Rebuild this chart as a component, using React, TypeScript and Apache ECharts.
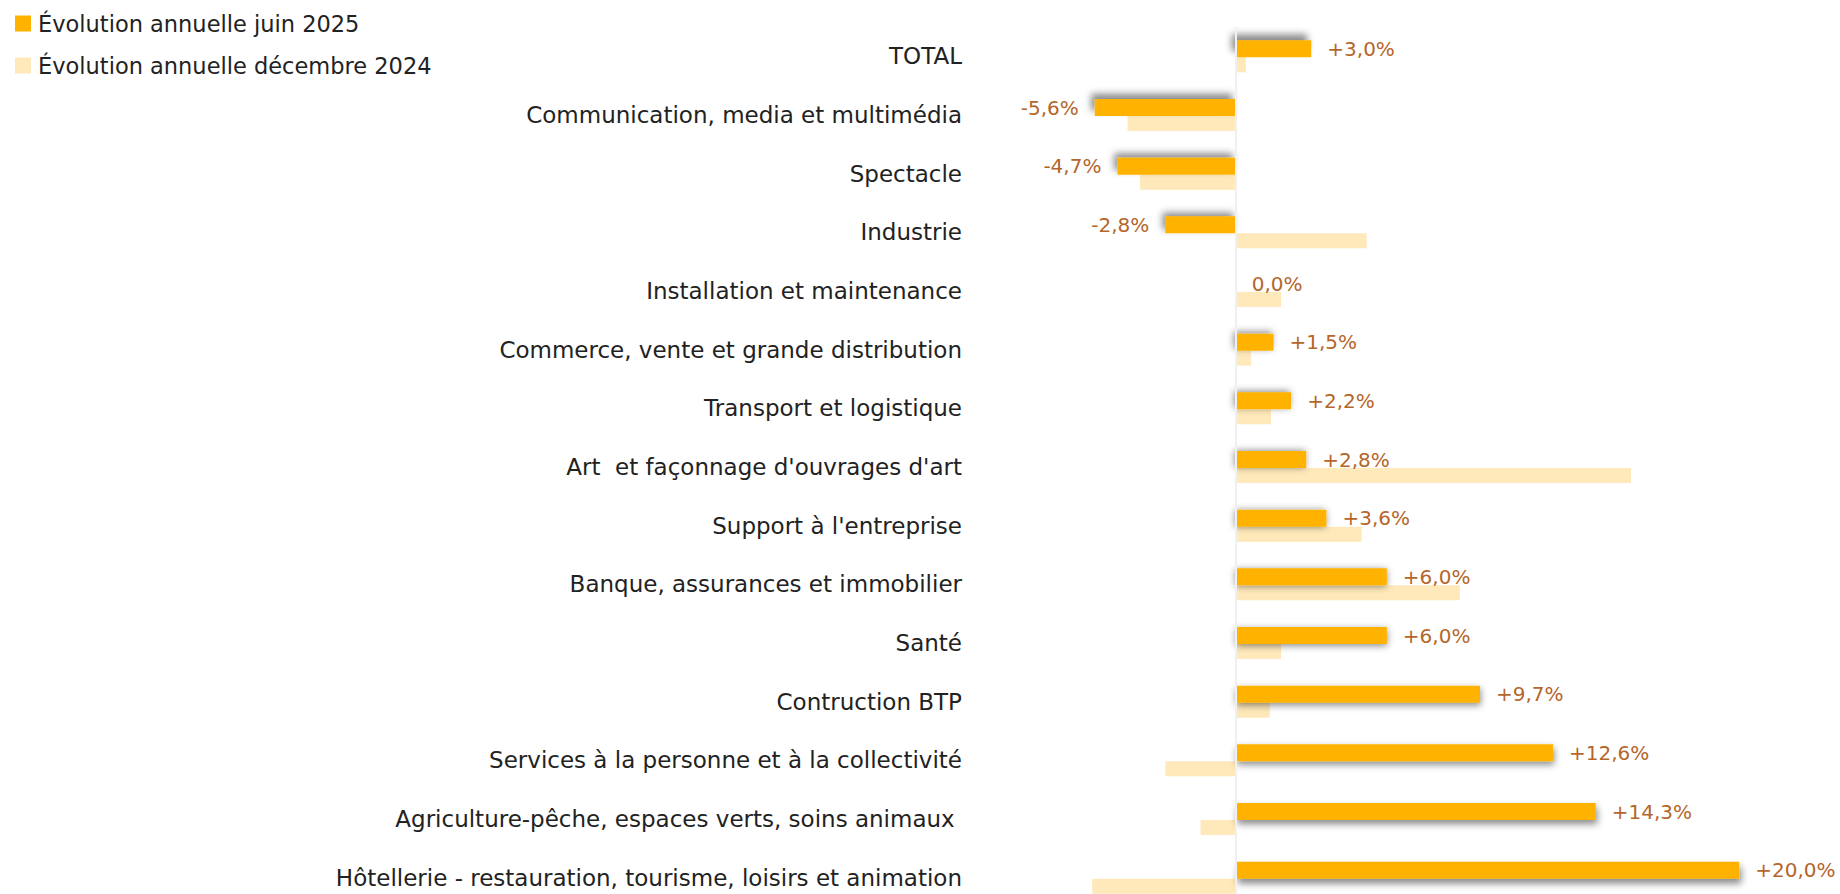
import React, { useEffect, useRef } from "react";
import * as echarts from "echarts";

const categories = [
  "TOTAL",
  "Communication, media et multimédia",
  "Spectacle",
  "Industrie",
  "Installation et maintenance",
  "Commerce, vente et grande distribution",
  "Transport et logistique",
  "Art  et façonnage d'ouvrages d'art",
  "Support à l'entreprise",
  "Banque, assurances et immobilier",
  "Santé",
  "Contruction BTP",
  "Services à la personne et à la collectivité",
  "Agriculture-pêche, espaces verts, soins animaux ",
  "Hôtellerie - restauration, tourisme, loisirs et animation",
];

const juin2025 = [3.0, -5.6, -4.7, -2.8, 0.0, 1.5, 2.2, 2.8, 3.6, 6.0, 6.0, 9.7, 12.6, 14.3, 20.0];
const dec2024 = [0.4, -4.3, -3.8, 5.2, 1.8, 0.6, 1.4, 15.7, 5.0, 8.9, 1.8, 1.35, -2.8, -1.4, -5.7];

const seriesNames = ["Évolution annuelle juin 2025", "Évolution annuelle décembre 2024"];

const FONT = "'DejaVu Sans', sans-serif";

function fmt(v: number): string {
  const s = Math.abs(v).toFixed(1).replace(".", ",");
  if (v > 0) return "+" + s + "%";
  if (v < 0) return "-" + s + "%";
  return s + "%";
}

export default function App() {
  const ref = useRef<HTMLDivElement>(null);
  useEffect(() => {
    if (!ref.current) return;
    const chart = echarts.init(ref.current, null, { renderer: "svg" });
    const n = categories.length;
    const orangeData = juin2025.map((v, i) => ({
      value: v,
      label: { position: v < 0 ? "left" : "right" },
      itemStyle: {
        shadowColor: "rgba(0,0,0,0.45)",
        shadowBlur: 7,
        shadowOffsetX: -4 + (6 * i) / (n - 1),
        shadowOffsetY: -6 + (11 * i) / (n - 1),
      },
    }));
    chart.setOption({
      animation: false,
      legend: {
        orient: "vertical",
        left: 15,
        top: 12,
        padding: 0,
        itemWidth: 16,
        itemHeight: 16,
        itemGap: 19,
        icon: "rect",
        textStyle: { fontFamily: FONT, fontSize: 22.5, color: "#222", padding: [0, 0, 0, 2] },
        data: seriesNames,
      },
      grid: { left: 984, top: 27, width: 857, height: 880, containLabel: false },
      xAxis: {
        type: "value",
        min: -10,
        max: 24,
        show: false,
        splitLine: { show: false },
      },
      yAxis: {
        type: "category",
        inverse: true,
        data: categories,
        axisLine: { show: false, onZero: false },
        axisTick: { show: false },
        axisLabel: { margin: 22, fontFamily: FONT, fontSize: 23, color: "#222" },
      },
      series: [
        {
          name: seriesNames[0],
          type: "bar",
          barWidth: 17,
          barGap: "0%",
          itemStyle: { color: "#FFB300" },
          label: {
            show: true,
            distance: 16,
            fontFamily: FONT,
            fontSize: 20,
            color: "#B5662A",
            formatter: (p: any) => fmt(p.value),
          },
          data: orangeData,
          markLine: {
            silent: true,
            symbol: "none",
            label: { show: false },
            lineStyle: { color: "#F0F0F0", width: 2, type: "solid" },
            data: [{ xAxis: 0 }],
          },
          z: 3,
        },
        {
          name: seriesNames[1],
          type: "bar",
          barWidth: 15,
          barGap: "0%",
          itemStyle: { color: "#FFE9BA" },
          data: dec2024,
          z: 2,
        },
      ],
    });
    return () => chart.dispose();
  }, []);
  return (
    <div
      ref={ref}
      style={{ position: "fixed", left: 0, top: 0, width: 1840, height: 920, background: "#fff" }}
    />
  );
}
